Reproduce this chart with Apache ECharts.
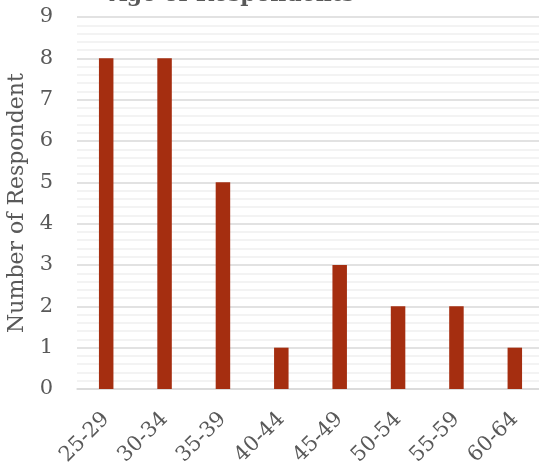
<!DOCTYPE html>
<html><head><meta charset="utf-8">
<script src="https://cdn.jsdelivr.net/npm/echarts@6/dist/echarts.min.js"></script>
<style>html,body{margin:0;padding:0;background:#fff}#c{width:539px;height:466px}</style>
</head><body><div id="c"></div>
<script>
const categories = ['25-29','30-34','35-39','40-44','45-49','50-54','55-59','60-64'];
const respondents = [8,8,5,1,3,2,2,1];
const titleText = 'Age of Respondents';
const yAxisName = 'Number of Respondent';
const FONT = '"DejaVu Serif", serif';
const chart = echarts.init(document.getElementById('c'), null, {renderer:'canvas'});
chart.setOption({
  animation:false,
  backgroundColor:'#fff',
  graphic:[{type:'text', x:232, y:6, style:{text:titleText, font:'bold 22px '+FONT, fill:'#595959', align:'center', verticalAlign:'bottom'}}],
  grid:{left:77, right:-5, top:17, bottom:77, containLabel:false, outerBoundsMode:'none'},
  xAxis:{type:'category', data:categories,
    axisLine:{show:true, lineStyle:{color:'#d9d9d9', width:1.5}}, axisTick:{show:false},
    axisLabel:{rotate:45, color:'#595959', fontFamily:FONT, fontSize:21, margin:27, interval:0}},
  yAxis:{type:'value', min:0, max:9, interval:1, name:yAxisName, nameLocation:'middle', nameGap:46,
    nameTextStyle:{color:'#595959', fontFamily:FONT, fontSize:22},
    axisLine:{show:false}, axisTick:{show:false},
    axisLabel:{color:'#595959', fontFamily:FONT, fontSize:21, margin:24},
    splitLine:{lineStyle:{color:'#d9d9d9', width:1.5}},
    minorTick:{show:false, splitNumber:5},
    minorSplitLine:{show:true, lineStyle:{color:'#f0f0f0', width:1.5}}},
  series:[{type:'bar', data:respondents, barWidth:14.5, itemStyle:{color:'#a52e10'}}]
});
</script></body></html>
